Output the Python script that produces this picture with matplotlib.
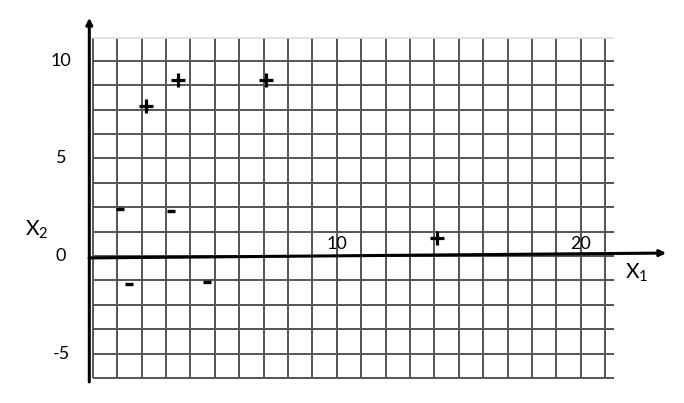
import numpy as np
import matplotlib.pyplot as plt

plt.rcParams['font.family'] = ['Lato', 'DejaVu Sans']
plt.rcParams['mathtext.fontset'] = 'custom'
plt.rcParams['mathtext.rm'] = 'Lato'

# data points (x1, x2)
plus_x1 = [2.2, 3.5, 7.1, 14.1]
plus_x2 = [7.7, 9.0, 9.0, 0.9]
minus_x1 = [1.1, 3.2, 1.5, 4.7]
minus_x2 = [2.4, 2.3, -1.45, -1.35]

# graph paper lines
grid_x = [0, 1, 2, 3, 4, 5, 6, 7, 8, 9, 10, 11, 12, 13, 14, 15, 16, 17, 18, 19, 20, 21]
grid_y = [-6.25, -5, -3.75, -2.5, -1.25, 0, 1.25, 2.5, 3.75, 5, 6.25, 7.5, 8.75, 10]
grid_top = 11.15
grid_right = 21.37

# tick labels
ytick_vals = [10, 5, 0, -5]
ytick_labels = ['10', '5', '0', '-5']
xtick_vals = [10, 20]
xtick_labels = ['10', '20']

fig = plt.figure(figsize=(6.84, 4.03), dpi=100)
ax = fig.add_axes([0, 0, 1, 1])
ax.set_xlim(-3.8, 24.23)
ax.set_ylim(-7.53, 13.11)
ax.axis('off')

# grid
ax.vlines(grid_x, grid_y[0], grid_top, colors='#555555', lw=1.4, zorder=1)
ax.hlines(grid_y, grid_x[0], grid_right, colors='#555555', lw=1.4, zorder=1)
ax.hlines(grid_top, grid_x[0], grid_right, colors='#dddddd', lw=1.2, zorder=1)

# axes with arrows
ax.annotate('', xy=(-0.14, 12.2), xytext=(-0.14, -6.45),
            arrowprops=dict(arrowstyle='-|>', color='black', lw=2.2,
                            mutation_scale=9, shrinkA=0, shrinkB=0), zorder=3)
ax.annotate('', xy=(23.5, 0.15), xytext=(-0.15, -0.1),
            arrowprops=dict(arrowstyle='-|>', color='black', lw=2.2,
                            mutation_scale=9, shrinkA=0, shrinkB=0), zorder=3)

# tick labels
for v, s in zip(ytick_vals, ytick_labels):
    ax.text(-1.3, v, s, fontsize=13, ha='center', va='center')
for v, s in zip(xtick_vals, xtick_labels):
    ax.text(v, 0.6, s, fontsize=13, ha='center', va='center')

ax.text(-2.3, 1.35, r'X$_\mathregular{2}$', fontsize=15, ha='center', va='center')
ax.text(22.3, -0.85, r'X$_\mathregular{1}$', fontsize=15, ha='center', va='center')

# points
ax.plot(plus_x1, plus_x2, '+', color='black', markersize=10, mew=2.3, zorder=4)
ax.plot(minus_x1, minus_x2, '_', color='black', markersize=6, mew=2.4, zorder=4)

plt.savefig('out.png', dpi=100)
